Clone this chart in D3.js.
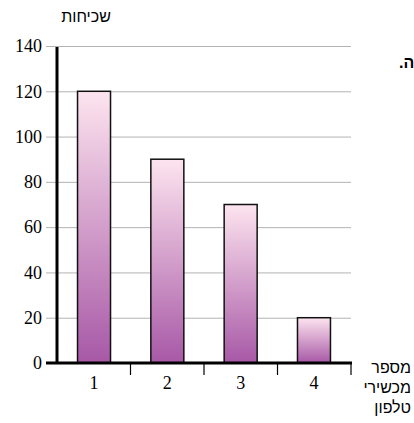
<!DOCTYPE html>
<html>
<head>
<meta charset="utf-8">
<script src="https://cdn.jsdelivr.net/npm/d3@7"></script>
<style>
  html, body { margin: 0; padding: 0; background: #fff; }
  svg { display: block; }
  .serif { font-family: "Liberation Serif", "Times New Roman", "DejaVu Serif", serif; }
  .sans { font-family: "Liberation Sans", Arial, "Noto Sans", sans-serif; }
</style>
</head>
<body>
<svg id="chart" width="414" height="423"></svg>
<script>
// Number of phone devices per household and how often each occurs
const categories = ["1", "2", "3", "4"];
const frequencies = [120, 90, 70, 20];
const yTicks = [0, 20, 40, 60, 80, 100, 120, 140];
const yTitle = "שכיחות";
const xTitleLines = ["מספר", "מכשירי", "טלפון"];

const svg = d3.select("#chart");
const x0 = 57, x1 = 351, yTop = 46, yBottom = 363;

const x = d3.scaleBand().domain(categories).range([x0, x1]).paddingInner(0.55).paddingOuter(0.28);
const y = d3.scaleLinear().domain([0, 140]).range([yBottom, yTop]);

const defs = svg.append("defs");
const grad = defs.append("linearGradient")
  .attr("id", "barFill").attr("x1", 0).attr("y1", 0).attr("x2", 0).attr("y2", 1);
grad.append("stop").attr("offset", "0%").attr("stop-color", "#fde4ef");
grad.append("stop").attr("offset", "100%").attr("stop-color", "#a758a6");

// Horizontal gridlines with short left ticks
const yAxis = d3.axisLeft(y).tickValues(yTicks).tickSize(x1 - 46).tickPadding(5).tickFormat(d3.format("d"));
const gy = svg.append("g").attr("transform", `translate(${x1},0)`).call(yAxis);
gy.attr("font-family", null).attr("font-size", null);
gy.select(".domain").remove();
gy.selectAll(".tick line").attr("stroke", "#b3b3b3").attr("stroke-width", 1);
gy.selectAll(".tick text")
  .attr("class", "serif")
  .attr("x", -(x1 - 46) - 4)
  .style("font-size", "18px").attr("fill", "#000");

// Bars
svg.append("g").selectAll("rect").data(frequencies).join("rect")
  .attr("x", (d, i) => x(categories[i]))
  .attr("y", d => y(d))
  .attr("width", x.bandwidth())
  .attr("height", d => y(0) - y(d))
  .attr("fill", "url(#barFill)")
  .attr("stroke", "#111").attr("stroke-width", 1.5);

// Category axis with ticks between bands
const band = (x1 - x0) / categories.length;
const gx = svg.append("g").attr("transform", `translate(0,${yBottom})`);
gx.append("line").attr("x1", 46).attr("x2", x1 + 1).attr("y1", 0).attr("y2", 0)
  .attr("stroke", "#000").attr("stroke-width", 3);
gx.selectAll("line.sep").data(categories).join("line").attr("class", "sep")
  .attr("x1", (d, i) => x0 + band * (i + 1)).attr("x2", (d, i) => x0 + band * (i + 1))
  .attr("y1", 0).attr("y2", 12).attr("stroke", "#000").attr("stroke-width", 1.2);
gx.selectAll("text").data(categories).join("text")
  .attr("class", "serif")
  .attr("x", d => x(d) + x.bandwidth() / 2)
  .attr("y", 26)
  .attr("text-anchor", "middle")
  .style("font-size", "18px").text(d => d);

// Vertical axis line
svg.append("line").attr("x1", x0).attr("x2", x0).attr("y1", yTop + 1).attr("y2", yBottom)
  .attr("stroke", "#000").attr("stroke-width", 3);

// Axis titles
svg.append("text").attr("class", "sans").attr("x", 86).attr("y", 22).attr("text-anchor", "middle")
  .style("font-size", "16px").attr("direction", "rtl").text(yTitle);

svg.append("g").selectAll("text").data(xTitleLines).join("text")
  .attr("class", "sans")
  .attr("x", 411).attr("y", (d, i) => 373 + i * 20)
  .attr("text-anchor", "end")
  .style("font-size", "16px")
  .text(d => d);

// Trailing fragment of an adjacent line of text, cut by the right edge
svg.append("text").attr("class", "sans").attr("x", 399).attr("y", 68)
  .style("font-size", "16px")
  .attr("font-weight", "bold").attr("direction", "rtl").attr("text-anchor", "end")
  .text("ה.");
</script>
</body>
</html>
